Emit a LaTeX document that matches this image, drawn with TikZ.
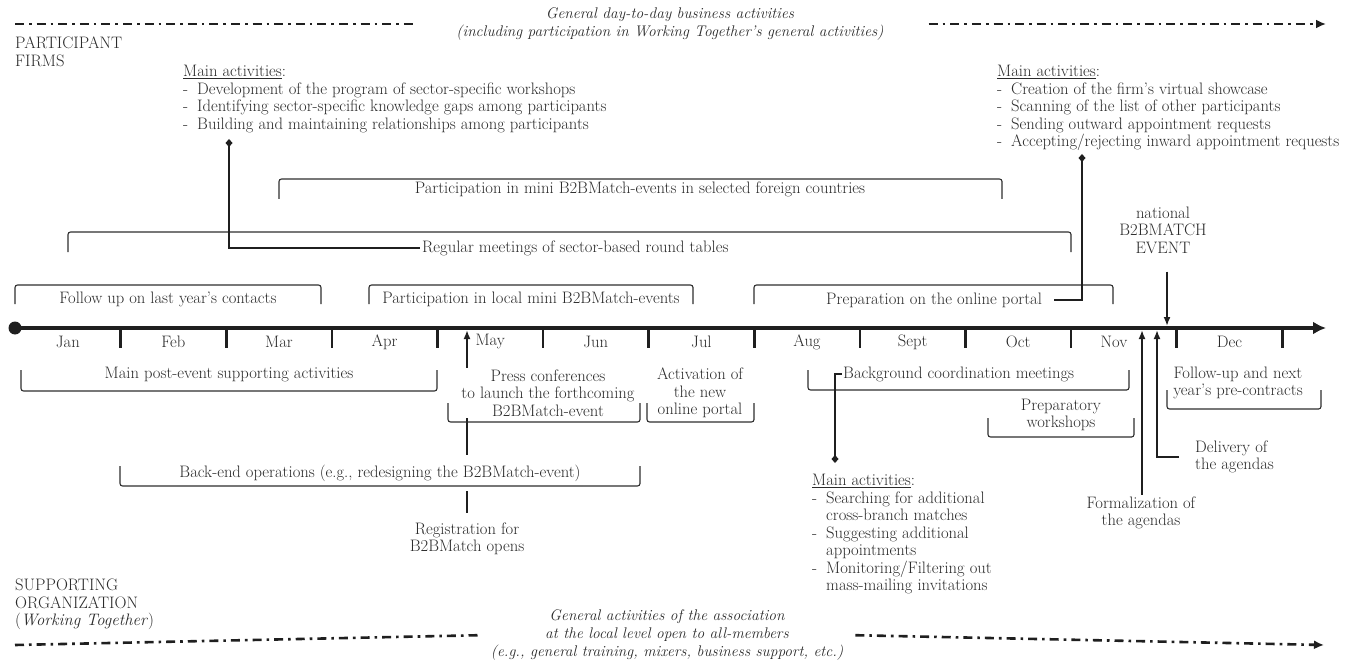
\documentclass[tikz,border=0pt]{standalone}
\usepackage{tikz}
\usepackage{xcolor}
\usetikzlibrary{arrows.meta}
\definecolor{tldark}{HTML}{1f1f1f}
\definecolor{tlline}{HTML}{2e2e2e}
\definecolor{tltext}{HTML}{2a2a2a}
\newcommand{\dashitem}{\makebox[14pt][l]{-}}
\newcommand{\contitem}{\makebox[14pt][l]{}}

\begin{document}
\begin{tikzpicture}[x=1pt,y=-1pt,
		lbl/.style={text=tltext, font=\fontsize{16.6}{17.5}\selectfont, inner sep=2pt},
		itlbl/.style={lbl, font=\fontsize{15.4}{18}\selectfont\itshape},
		tlbracket/.style={draw=tlline, line width=1.1pt, rounded corners=2.5pt},
		dashdot/.style={draw=tldark, line width=2.6pt, dash pattern=on 9pt off 5pt on 2.6pt off 5pt},
		timeline/.style={draw=tldark, line width=4.4pt, -{Latex[length=13pt,width=13pt]}},
		tick/.style={draw=tldark, line width=2.6pt},
		pinline/.style={draw=tldark, line width=1.6pt, {Diamond[length=8pt,width=7pt]}-},
		uparrow/.style={draw=tldark, line width=2.2pt, -{Latex[length=9pt,width=7pt]}}]
		\useasboundingbox (0,0) rectangle (1354,671);
		\coordinate (topa)	 at (15,24);
		\coordinate (topb)	 at (1326,24);
		\coordinate (bota)	 at (15,645);
		\coordinate (botb)	 at (1324,645);
		\coordinate (tstart)	 at (15,328);
		\coordinate (tend)	 at (1326,328);
		\coordinate (pinleft)	 at (229,139);
		\coordinate (pinright)	 at (1082,154);
		\coordinate (pinbottom)	 at (835,463);
		\coordinate (evtpt)	 at (1167,326);
		\coordinate (formpt)	 at (1142,330);
		\coordinate (delpt)	 at (1157,330);
		\coordinate (maypt)	 at (467,330);
		\node[itlbl, align=center] (gentop) at (670,24) {General day-to-day business activities\\(including participation in Working Together’s general activities)};
		\node[itlbl, align=center] (genbot) at (667,635) {General activities of the association\\at the local level open to all-members\\(e.g., general training, mixers, business support, etc.)};
		\draw[dashdot, shorten >=40pt] (topa) -- (gentop.west);
		\draw[dashdot, -{Latex[length=10pt,width=9pt]}, shorten <=43pt] (gentop.east) -- (topb);
		\draw[dashdot, shorten >=11pt] (bota) -- (genbot.west);
		\draw[dashdot, -{Latex[length=10pt,width=9pt]}, shorten <=10pt] (genbot.east) -- (botb);
		\node[lbl, anchor=north west, align=left] (firms) at (13,35) {PARTICIPANT\\FIRMS};
		\node[lbl, anchor=north west, align=left] (suporg) at (13,577) {SUPPORTING\\ORGANIZATION\\(\textit{Working Together})};
		\node[lbl, anchor=north west, align=left] (actleft) at (181,63) {\underline{Main activities}:\\\dashitem Development of the program of sector-specific workshops\\\dashitem Identifying sector-specific knowledge gaps among participants\\\dashitem Building and maintaining relationships among participants};
		\node[lbl, anchor=north west, align=left] (actright) at (995,63) {\underline{Main activities}:\\\dashitem Creation of the firm’s virtual showcase\\\dashitem Scanning of the list of other participants\\\dashitem Sending outward appointment requests\\\dashitem Accepting/rejecting inward appointment requests};
		\node[lbl, anchor=north west, align=left] (actbottom) at (810,472) {\underline{Main activities}:\\\dashitem Searching for additional\\\contitem cross-branch matches\\\dashitem Suggesting additional\\\contitem appointments\\\dashitem Monitoring/Filtering out\\\contitem mass-mailing invitations};
		\node[lbl] (foreign) at (640,189) {Participation in mini B2BMatch-events in selected foreign countries};
		\node[lbl, anchor=west] (regular) at (420,248) {Regular meetings of sector-based round tables};
		\node[lbl] (lastyear) at (168,299) {Follow up on last year’s contacts};
		\node[lbl] (localmini) at (531,299) {Participation in local mini B2BMatch-events};
		\node[lbl, anchor=west] (portal) at (824,300) {Preparation on the online portal};
		\draw[tlbracket] (279,199) -- (279,179) -- (1002,179) -- (1002,199);
		\draw[tlbracket] (68,252) -- (68,232) -- (1071,232) -- (1071,252);
		\draw[tlbracket] (15,304) -- (15,285) -- (321,285) -- (321,304);
		\draw[tlbracket] (369,304) -- (369,285) -- (693,285) -- (693,304);
		\draw[tlbracket] (754,304) -- (754,285) -- (1113,285) -- (1113,304);
		\draw[pinline] (pinleft) |- (regular.west);
		\draw[pinline, shorten >=10pt] (pinright) |- (portal.east);
		\draw[timeline] (tstart) -- (tend);
		\fill[tldark] (tstart) circle (6.5);
		\draw[tick] (120.6,326) -- (120.6,348);
		\draw[tick] (226.2,326) -- (226.2,348);
		\draw[tick] (331.8,326) -- (331.8,348);
		\draw[tick] (437.4,326) -- (437.4,348);
		\draw[tick] (543,326) -- (543,348);
		\draw[tick] (648.6,326) -- (648.6,348);
		\draw[tick] (754.2,326) -- (754.2,348);
		\draw[tick] (859.8,326) -- (859.8,348);
		\draw[tick] (965.4,326) -- (965.4,348);
		\draw[tick] (1071,326) -- (1071,348);
		\draw[tick] (1176.6,326) -- (1176.6,348);
		\draw[tick] (1282.2,326) -- (1282.2,348);
		\node[lbl] (jan) at (67.8,342) {Jan};
		\node[lbl] (feb) at (173.4,342) {Feb};
		\node[lbl] (mar) at (279,342) {Mar};
		\node[lbl] (apr) at (384.6,342) {Apr};
		\node[lbl] (may) at (490.2,342) {May};
		\node[lbl] (jun) at (595.8,342) {Jun};
		\node[lbl] (jul) at (701.4,342) {Jul};
		\node[lbl] (aug) at (807,342) {Aug};
		\node[lbl] (sep) at (912.6,342) {Sept};
		\node[lbl] (oct) at (1018.2,342) {Oct};
		\node[lbl] (nov) at (1114,342) {Nov};
		\node[lbl] (dec) at (1229.4,342) {Dec};
		\node[lbl, align=center] (natl) at (1163,230) {national\\B2BMATCH\\EVENT};
		\draw[uparrow, shorten <=16pt] (natl.south -| evtpt) -- (evtpt);
		\node[lbl, align=center] (formal) at (1141,513) {Formalization of\\the agendas};
		\draw[uparrow] (formal.north -| formpt) -- (formpt);
		\node[lbl, align=left, anchor=west] (deliv) at (1193,457) {Delivery of\\the agendas};
		\draw[uparrow, shorten <=14pt] (deliv.west) -| (delpt);
		\node[lbl, align=center] (reg) at (467,539) {Registration for\\B2BMatch opens};
		\draw[uparrow, line width=2pt, shorten <=8pt] (reg.north) -- (maypt);
		\node[lbl] (postevent) at (229,375) {Main post-event supporting activities};
		\node[lbl, align=center, fill=white] (press) at (548,393) {Press conferences\\to launch the forthcoming\\B2BMatch-event};
		\node[lbl, align=center] (activation) at (700,393) {Activation of\\the new\\online portal};
		\node[lbl, fill=white, inner ysep=10pt] (backend) at (380,473) {Back-end operations (e.g., redesigning the B2BMatch-event)};
		\node[lbl, inner sep=1pt, anchor=west] (bgcoord) at (842,374) {Background coordination meetings};
		\node[lbl, align=center] (prepws) at (1061,415) {Preparatory\\workshops};
		\node[lbl, align=center] (nextyear) at (1238,383) {Follow-up and next\\year’s pre-contracts};
		\draw[tlbracket] (21,370) -- (21,391) -- (437,391) -- (437,370);
		\draw[tlbracket] (448,403) -- (448,422) -- (640,422) -- (640,403);
		\draw[tlbracket] (647,403) -- (647,422) -- (754,422) -- (754,403);
		\draw[tlbracket] (120,466) -- (120,486) -- (640,486) -- (640,466);
		\draw[tlbracket] (808,370) -- (808,390) -- (1129,390) -- (1129,370);
		\draw[tlbracket] (988,418) -- (988,437) -- (1134,437) -- (1134,418);
		\draw[tlbracket] (1167,390) -- (1167,409) -- (1321,409) -- (1321,390);
		\draw[pinline] (pinbottom) |- (bgcoord.west);
	\end{tikzpicture}
\end{document}
